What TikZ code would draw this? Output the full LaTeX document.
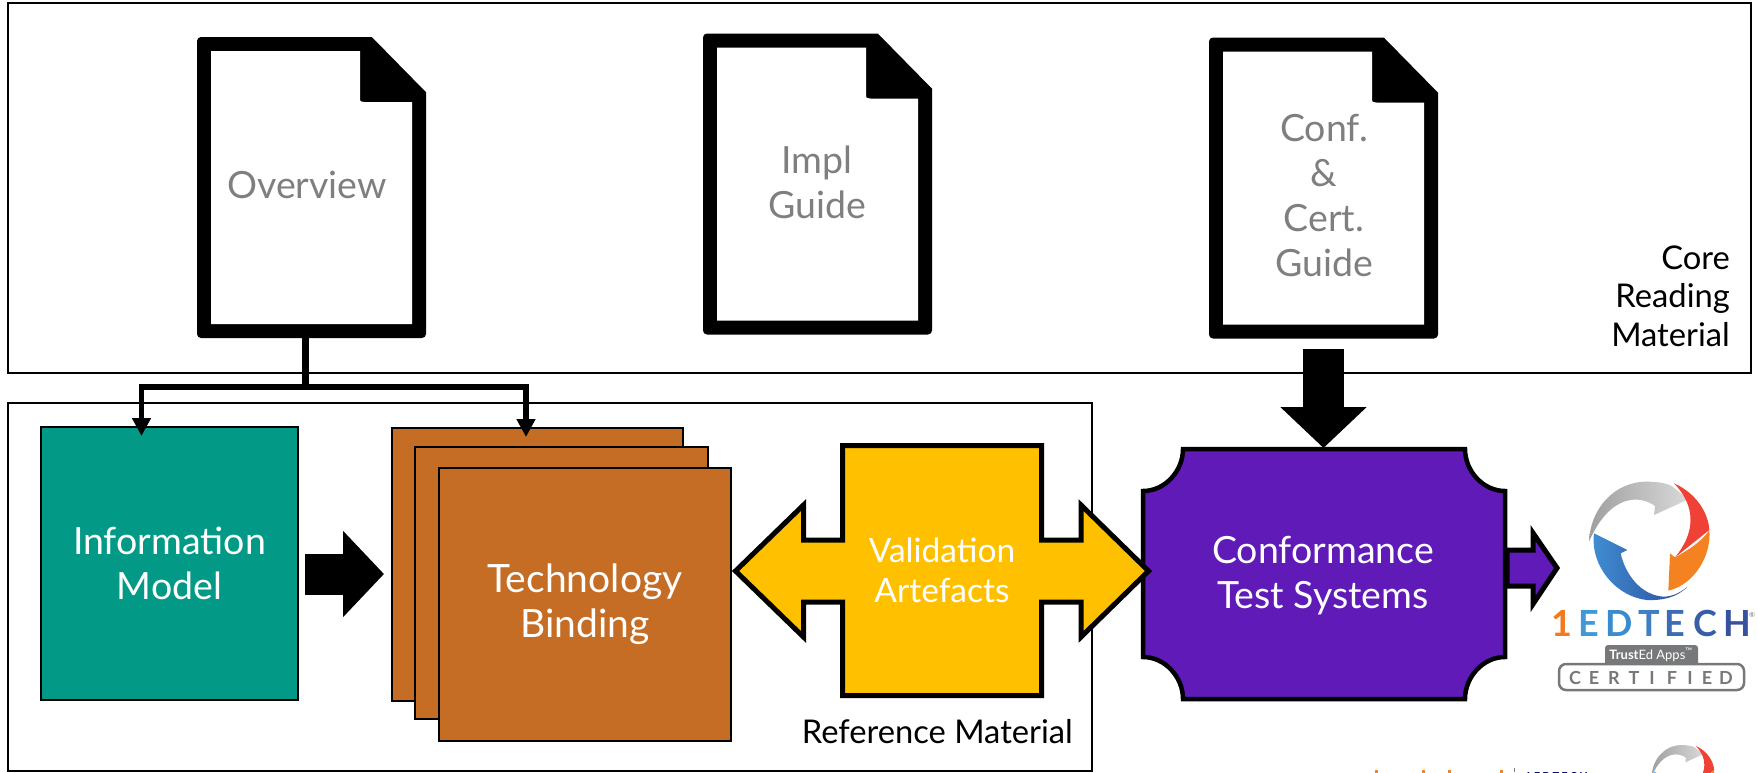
\documentclass[tikz,border=0pt]{standalone}
\usepackage{fontspec}
\setmainfont{Lato}
\usetikzlibrary{arrows.meta}
\definecolor{tealbox}{HTML}{029A87}
\definecolor{rustbox}{HTML}{C56D25}
\definecolor{amberbox}{HTML}{FFC000}
\definecolor{violetbox}{HTML}{5F1AB7}
\definecolor{pagetext}{HTML}{7F7F7F}
\definecolor{certgray}{HTML}{77787A}
\definecolor{swooshred}{HTML}{EF4136}
\definecolor{swooshorange}{HTML}{F58220}
\definecolor{swooshlight}{HTML}{3F8FD2}
\definecolor{swooshdark}{HTML}{2E4C9E}
\tikzset{
  frame/.style={draw=black,line width=2pt},
  pagenode/.style={fill=black,rounded corners=4pt,minimum width=229pt,minimum height=301pt,inner sep=0pt,outer sep=0pt},
  pagetitle/.style={text=pagetext,align=center,font=\fontsize{37.5}{45}\selectfont,inner sep=0pt},
  sidetitle/.style={align=right,font=\fontsize{32.7}{38.5}\selectfont,inner sep=0pt},
  solidbox/.style={draw=black,line width=2.5pt,text=white,align=center,font=\fontsize{37.5}{45}\selectfont,inner sep=0pt},
  feedline/.style={draw=black,line width=5.5pt,-{Triangle[length=18pt,width=18pt]}},
  blockarrow/.style={draw=black,line width=41pt,-{Triangle[length=41pt,width=84pt]}},
  logoletter/.style={font=\fontsize{36}{36}\selectfont\bfseries,inner sep=0pt},
  certletter/.style={text=certgray,font=\fontsize{18}{18}\selectfont\bfseries,inner sep=0pt},
  logomark/.pic={
    \shade[left color=gray!75,right color=gray!30]
      (27,215) .. controls (30,120) and (100,35) .. (200,35) .. controls (240,35) and (265,42) .. (275,48)
      -- (325,88) -- (222,135) -- (225,108) .. controls (180,75) and (90,70) .. (27,215) -- cycle;
    \fill[swooshred] (282,40) .. controls (350,70) and (385,130) .. (388,180)
      -- (285,262) .. controls (345,190) and (350,110) .. (282,40) -- cycle;
    \fill[swooshorange] (270,250) -- (285,262) .. controls (325,240) and (365,215) .. (388,180)
      .. controls (395,260) and (340,345) .. (265,362) -- cycle;
    \shade[left color=swooshlight,right color=swooshdark]
      (42,190) -- (142,240) -- (122,250) .. controls (135,310) and (180,375) .. (250,380)
      .. controls (280,380) and (305,365) .. (322,350) .. controls (290,385) and (240,392) .. (200,390)
      .. controls (110,380) and (30,290) .. (42,190) -- cycle;
  }
}
\begin{document}
\begin{tikzpicture}[x=1pt,y=-1pt]
\useasboundingbox (0,0) rectangle (1758,772);
\clip (0,0) rectangle (1758,772);
% frames
\draw[frame] (8,3) rectangle (1751,373);
\draw[frame] (8,403) rectangle (1092,771);
% reading pages
\node[pagenode] (overview) at (311.5,187.5) {};
\node[pagenode] (implguide) at (817.5,184) {};
\node[pagenode] (confguide) at (1323.5,188) {};
\foreach \n in {overview,implguide,confguide} {
  \fill[white] ([shift={(60.5,-152)}]\n.center) -- ([shift={(116,-152)}]\n.center) -- ([shift={(116,-95.5)}]\n.center)
    -- ([shift={(114.5,-95.5)}]\n.center) -- ([shift={(60.5,-150.5)}]\n.center) -- cycle;
  \fill[white] ([shift={(-100.5,-136.5)}]\n.center) -- ([shift={(48.5,-136.5)}]\n.center) -- ([shift={(48.5,-90)}]\n.center)
    .. controls ([shift={(48.5,-86)}]\n.center) .. ([shift={(53,-85.5)}]\n.center)
    -- ([shift={(100.5,-85.5)}]\n.center) -- ([shift={(100.5,136.5)}]\n.center) -- ([shift={(-100.5,136.5)}]\n.center) -- cycle;
}
\node[pagetitle] (overviewtext) at (307,185) {Overview};
\node[pagetitle] (impltext) at (817,182.5) {Impl\\Guide};
\node[pagetitle] (conftext) at (1324,195.5) {Conf.\\\&\\Cert.\\Guide};
\node[sidetitle,anchor=east] (coretext) at (1730,296) {Core\\Reading\\Material};
\node[sidetitle,anchor=east] (reftext) at (1073,732) {Reference Material};
% reference boxes
\node[solidbox,fill=tealbox,minimum width=257pt,minimum height=273pt] (infomodel) at (169.5,563.5) {Information\\Model};
\node[solidbox,fill=rustbox,minimum width=291pt,minimum height=273pt] (bindingback) at (537.5,564.5) {};
\node[solidbox,fill=rustbox,minimum width=293pt,minimum height=272pt] (bindingmid) at (561.5,583) {};
\node[solidbox,fill=rustbox,minimum width=292pt,minimum height=273pt,font=\fontsize{39}{45}\selectfont] (binding) at (585,604.5) {Technology\\Binding};
% links from the overview page
\coordinate (split) at (305,387);
\coordinate (intoinfo) at (141.5,436);
\coordinate (intobinding) at (526,437);
\draw[draw=black,line width=7pt] (split |- overview.south) -- (split);
\draw[feedline] (split) -| (intoinfo);
\draw[feedline] (split) -| (intobinding);
\coordinate (modelout) at (305,574);
\coordinate (bindingin) at (384,574);
\draw[blockarrow] (modelout) -- (bindingin);
% test systems
\path[draw=black,fill=violetbox,line width=5pt] (1507,550) -- (1533,550) -- (1533,533) -- (1557,568) -- (1533,604) -- (1533,586) -- (1507,586) -- cycle;
\path[draw=black,fill=violetbox,line width=4.5pt] (1183,449) -- (1465,449)
  .. controls (1465,471) and (1483,491) .. (1505,491) -- (1505,657)
  .. controls (1483,657) and (1465,677) .. (1465,699) -- (1183,699)
  .. controls (1183,677) and (1165,657) .. (1143,657) -- (1143,491)
  .. controls (1165,491) and (1183,471) .. (1183,449) -- cycle;
\node[text=white,align=center,font=\fontsize{37.5}{45}\selectfont,inner sep=0pt] (conformance) at (1323,575.5) {Conformance\\Test Systems};
\coordinate (confout) at (1323.5,349);
\coordinate (confin) at (1323.5,448);
\draw[blockarrow] (confout) -- (confin);
% validation arrow
\path[draw=black,fill=amberbox,line width=5pt] (842.5,445.5) -- (1041.5,445.5) -- (1041.5,540) -- (1081,540) -- (1081,505)
  -- (1148.5,571) -- (1081,637) -- (1081,602) -- (1041.5,602) -- (1041.5,695.5) -- (842.5,695.5) -- (842.5,602)
  -- (803.5,602) -- (803.5,637) -- (735.5,571) -- (803.5,505) -- (803.5,540) -- (842.5,540) -- cycle;
\node[text=white,align=center,font=\fontsize{33.5}{40}\selectfont,inner sep=0pt] (validation) at (942,570) {Validation\\Artefacts};
% certified logo
\pic[scale=1/3] at (1580,470) {logomark};
\foreach \x/\c/\l in {1562/F47A20/1,1589/3F98D8/E,1619/3B8CCF/D,1649/3F80C4/T,1675/3B6DB6/E,1705/3A5DA8/C,1737/36519E/H} {
  \definecolor{lettertint}{HTML}{\c}
  \node[logoletter,text=lettertint] (mark\x) at (\x,623) {\l};
}
\node[text=certgray,font=\fontsize{7}{7}\selectfont,inner sep=0pt] (markreg) at (1752,615) {®};
\fill[certgray,rounded corners=3pt] (1605,668) -- (1605,645) -- (1698,645) -- (1698,668) -- cycle;
\draw[certgray,fill=white,line width=2.5pt,rounded corners=7pt] (1559,664) rectangle (1744,690);
\node[text=white,font=\fontsize{13}{13}\selectfont,inner sep=0pt] (trusted) at (1651,655) {\textbf{Trust}Ed Apps\textsuperscript{™}};
\foreach \x/\l in {1575/C,1594/E,1614/R,1634/T,1652/I,1672/F,1690/I,1707/E,1726/D} {
  \node[certletter] (cert\x) at (\x,678) {\l};
}
% cut-off logo and marks at the bottom edge
\pic[scale=0.173] at (1647,739) {logomark};
\node[text=blue!45!black,anchor=base west,font=\fontsize{11}{11}\selectfont\bfseries\addfontfeature{LetterSpace=20},inner sep=0pt] (edtechtail) at (1525,780) {1EDTECH};
\draw[gray,line width=0.8pt] (1514,768) -- (1514,772);
\foreach \x in {1375,1422,1448,1500} {
  \fill[swooshorange] (\x,769.5) rectangle ++(3,3);
}
\end{tikzpicture}
\end{document}
